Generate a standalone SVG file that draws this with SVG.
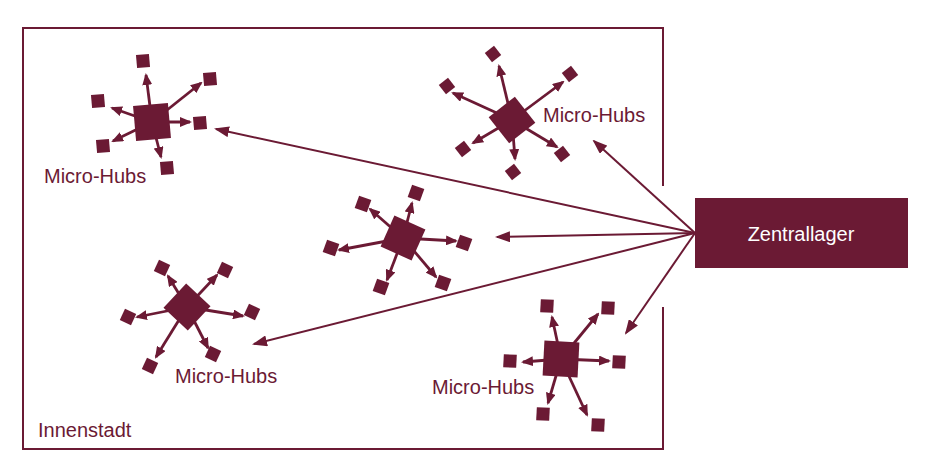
<svg xmlns="http://www.w3.org/2000/svg" xmlns:xlink="http://www.w3.org/1999/xlink" width="931" height="476" viewBox="0 0 931 476">
<style>
.c{fill:#6b1a34}
.a{stroke:#6b1a34;stroke-width:2.8;fill:none;marker-end:url(#ah)}
.m{stroke:#6b1a34;stroke-width:2;fill:none;marker-end:url(#am)}
.f{stroke:#6b1a34;stroke-width:2;fill:none}
.t{font-family:"Liberation Sans",Arial,sans-serif;font-size:20px;fill:#6b1a34}
.w{font-family:"Liberation Sans",Arial,sans-serif;font-size:20px;fill:#ffffff}
</style>
<defs>
<marker id="ah" markerUnits="userSpaceOnUse" markerWidth="12" markerHeight="10" refX="10" refY="5" orient="auto"><path d="M0,0 L12,5 L0,10 z" fill="#6b1a34"/></marker>
<marker id="am" markerUnits="userSpaceOnUse" markerWidth="15" markerHeight="11" refX="13" refY="5.5" orient="auto"><path d="M0,0 L15,5.5 L0,11 z" fill="#6b1a34"/></marker>
<rect id="s" x="-6.5" y="-6.5" width="13" height="13"/>
<rect id="b" x="-17.5" y="-17.5" width="35" height="35"/>
</defs>
<rect width="931" height="476" fill="#ffffff"/>
<g id="innenstadt">
<path class="f" d="M663,186 V28 H23 V449 H663 V307"/>
<text class="t" x="38" y="437">Innenstadt</text>
</g>
<g id="zentrallager">
<rect class="c" x="695" y="198" width="213" height="70"/>
<text class="w" x="801" y="241" text-anchor="middle">Zentrallager</text>
</g>
<g id="connectors">
<line class="m" x1="695" y1="233" x2="594" y2="141"/>
<line class="m" x1="695" y1="233" x2="216" y2="129"/>
<line class="m" x1="695" y1="233" x2="497" y2="237"/>
<line class="m" x1="695" y1="233" x2="254" y2="344"/>
<line class="m" x1="695" y1="233" x2="626" y2="333"/>
</g>
<g id="hub1" class="c">
<line class="a" x1="152" y1="122" x2="146" y2="75"/>
<line class="a" x1="152" y1="122" x2="201" y2="83"/>
<line class="a" x1="152" y1="122" x2="112" y2="108"/>
<line class="a" x1="152" y1="122" x2="190" y2="122"/>
<line class="a" x1="152" y1="122" x2="113" y2="141"/>
<line class="a" x1="152" y1="122" x2="161" y2="157"/>
<use href="#b" transform="translate(152,122) rotate(-5)"/>
<use href="#s" transform="translate(143,61) rotate(-5)"/>
<use href="#s" transform="translate(210,79) rotate(-5)"/>
<use href="#s" transform="translate(98,101) rotate(-5)"/>
<use href="#s" transform="translate(200,123) rotate(-5)"/>
<use href="#s" transform="translate(103,146) rotate(-5)"/>
<use href="#s" transform="translate(167,168) rotate(-5)"/>
<text class="t" x="44" y="183">Micro-Hubs</text>
</g>
<g id="hub2" class="c">
<line class="a" x1="512" y1="120" x2="499" y2="66"/>
<line class="a" x1="512" y1="120" x2="563" y2="82"/>
<line class="a" x1="512" y1="120" x2="453" y2="93"/>
<line class="a" x1="512" y1="120" x2="473" y2="143"/>
<line class="a" x1="512" y1="120" x2="515" y2="159"/>
<line class="a" x1="512" y1="120" x2="557" y2="147"/>
<use href="#b" transform="translate(512,120) rotate(-38) scale(0.95)"/>
<use href="#s" transform="translate(493,54) rotate(-38) scale(0.9)"/>
<use href="#s" transform="translate(570,74) rotate(-38) scale(0.9)"/>
<use href="#s" transform="translate(447,86) rotate(-38) scale(0.9)"/>
<use href="#s" transform="translate(463,149) rotate(-38) scale(0.9)"/>
<use href="#s" transform="translate(513,172) rotate(-38) scale(0.9)"/>
<use href="#s" transform="translate(562,154) rotate(-38) scale(0.9)"/>
<text class="t" x="543" y="122">Micro-Hubs</text>
</g>
<g id="hub3" class="c">
<line class="a" x1="403" y1="238" x2="412" y2="203"/>
<line class="a" x1="403" y1="238" x2="370" y2="209"/>
<line class="a" x1="403" y1="238" x2="339" y2="250"/>
<line class="a" x1="403" y1="238" x2="456" y2="241"/>
<line class="a" x1="403" y1="238" x2="387" y2="280"/>
<line class="a" x1="403" y1="238" x2="436" y2="277"/>
<use href="#b" transform="translate(403,238) rotate(24) scale(0.97)"/>
<use href="#s" transform="translate(416,193) rotate(20)"/>
<use href="#s" transform="translate(363,204) rotate(20)"/>
<use href="#s" transform="translate(331,248) rotate(20)"/>
<use href="#s" transform="translate(464,243) rotate(20)"/>
<use href="#s" transform="translate(381,287) rotate(20)"/>
<use href="#s" transform="translate(443,283) rotate(20)"/>
</g>
<g id="hub4" class="c">
<line class="a" x1="187" y1="307" x2="168" y2="276"/>
<line class="a" x1="187" y1="307" x2="217" y2="275"/>
<line class="a" x1="187" y1="307" x2="137" y2="317"/>
<line class="a" x1="187" y1="307" x2="243" y2="316"/>
<line class="a" x1="187" y1="307" x2="208" y2="348"/>
<line class="a" x1="187" y1="307" x2="156" y2="357"/>
<use href="#b" transform="translate(187,307) rotate(43) scale(0.95)"/>
<use href="#s" transform="translate(162,268) rotate(25) scale(0.95)"/>
<use href="#s" transform="translate(225,270) rotate(25) scale(0.95)"/>
<use href="#s" transform="translate(128,317) rotate(25) scale(0.95)"/>
<use href="#s" transform="translate(252,312) rotate(25) scale(0.95)"/>
<use href="#s" transform="translate(213,354) rotate(25) scale(0.95)"/>
<use href="#s" transform="translate(150,366) rotate(25) scale(0.95)"/>
<text class="t" x="175" y="383">Micro-Hubs</text>
</g>
<g id="hub5" class="c">
<line class="a" x1="561" y1="359" x2="552" y2="317"/>
<line class="a" x1="561" y1="359" x2="598" y2="314"/>
<line class="a" x1="561" y1="359" x2="523" y2="362"/>
<line class="a" x1="561" y1="359" x2="609" y2="361"/>
<line class="a" x1="561" y1="359" x2="548" y2="403"/>
<line class="a" x1="561" y1="359" x2="587" y2="415"/>
<use href="#b" transform="translate(561,359) rotate(3)"/>
<use href="#s" transform="translate(547,306) rotate(3)"/>
<use href="#s" transform="translate(608,308) rotate(3)"/>
<use href="#s" transform="translate(510,361) rotate(3)"/>
<use href="#s" transform="translate(619,362) rotate(3)"/>
<use href="#s" transform="translate(543,414) rotate(3)"/>
<use href="#s" transform="translate(598,425) rotate(3)"/>
<text class="t" x="432" y="394">Micro-Hubs</text>
</g>
</svg>
